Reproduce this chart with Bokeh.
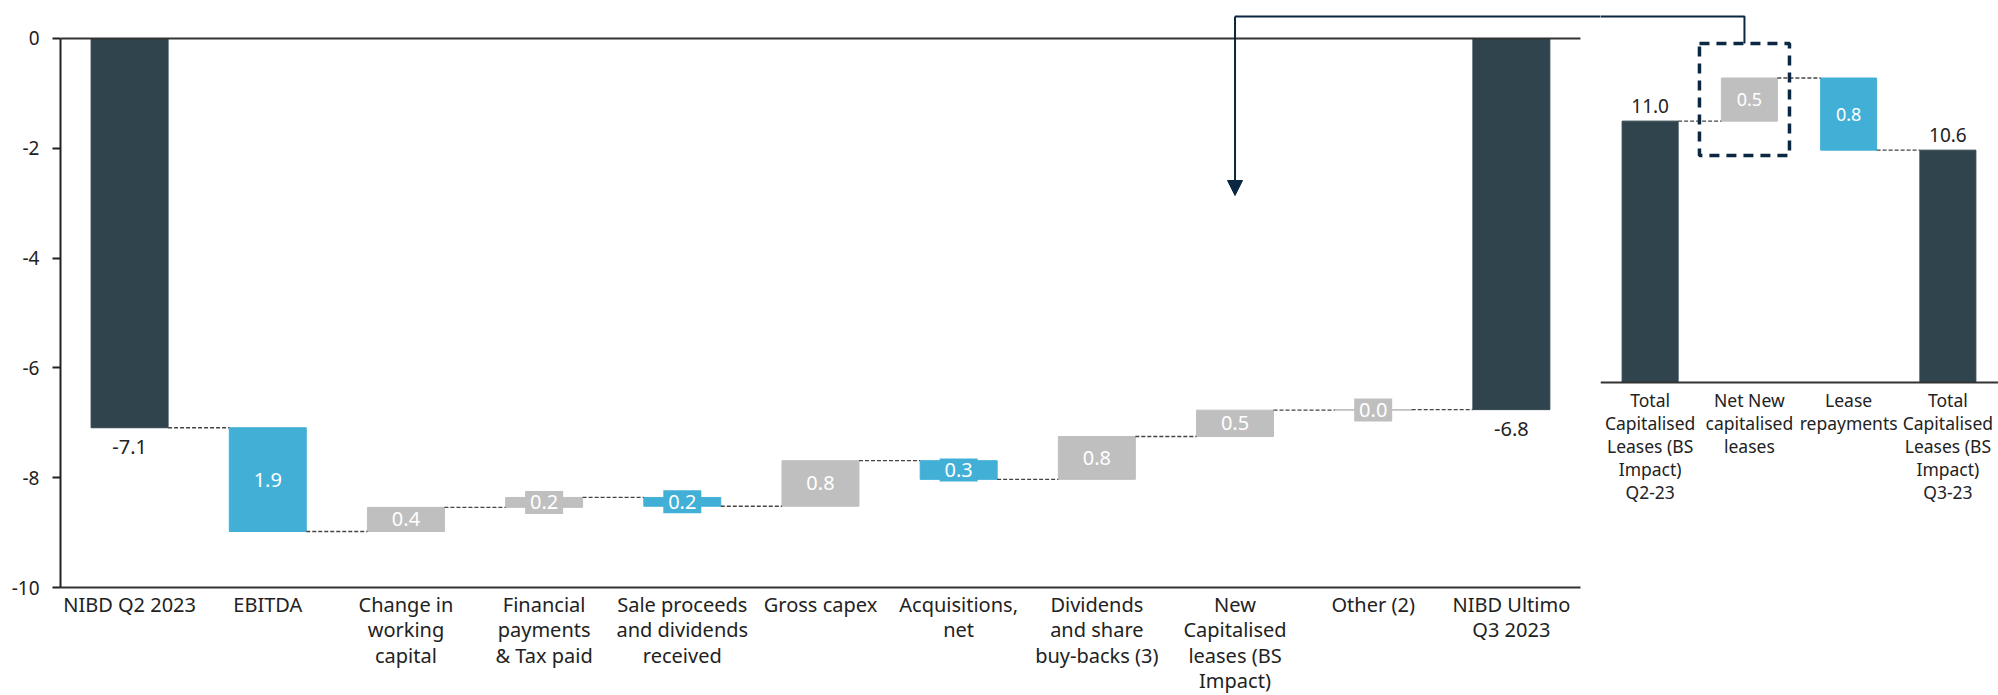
from bokeh.plotting import figure
from bokeh.models import FixedTicker, Arrow, NormalHead, BoxAnnotation, Range1d, ColumnDataSource
from bokeh.layouts import row
from bokeh.embed import file_html
from bokeh.resources import INLINE
from bokeh.core.properties import value

# ---------------- data ----------------
categories = [
    "NIBD Q2 2023", "EBITDA", "Change in\nworking\ncapital", "Financial\npayments\n& Tax paid",
    "Sale proceeds\nand dividends\nreceived", "Gross capex", "Acquisitions,\nnet",
    "Dividends\nand share\nbuy-backs (3)", "New\nCapitalised\nleases (BS\nImpact)",
    "Other (2)", "NIBD Ultimo\nQ3 2023",
]
nibd_start = -7.09
nibd_steps = [-1.89, 0.44, 0.18, -0.16, 0.83, -0.34, 0.78, 0.48, 0.01]
nibd_end = -6.76
y_ticks = [0, -2, -4, -6, -8, -10]

lease_categories = [
    "Total\nCapitalised\nLeases (BS\nImpact)\nQ2-23",
    "Net New\ncapitalised\nleases",
    "Lease\nrepayments",
    "Total\nCapitalised\nLeases (BS\nImpact)\nQ3-23",
]
lease_start = 10.97
lease_steps = [0.49, -0.82]
lease_end = 10.64
lease_axis_base = 8.0   # inset value axis starts here (broken axis)

# ---------------- style ----------------
DARK = "#2F444D"
BLUE = "#42B0D6"
GRAY = "#BFBFBF"
NAVY = "#0B2741"
TXT = "#222222"
FONT = "Noto Sans"


def waterfall(start, steps, end, base=0.0):
    n = len(steps) + 2
    xs = list(range(n))
    tops, bottoms, colors = [start], [base], [DARK]
    levels = [start]
    level = start
    step_x, step_y, step_txt, step_col = [], [], [], []
    for i, s in enumerate(steps):
        new = level + s
        tops.append(max(level, new))
        bottoms.append(min(level, new))
        c = BLUE if s < 0 else GRAY
        colors.append(c)
        step_x.append(i + 1)
        step_y.append((level + new) / 2)
        step_txt.append(f"{abs(s):.1f}")
        step_col.append(c)
        level = new
        levels.append(level)
    tops.append(end)
    bottoms.append(base)
    colors.append(DARK)
    levels.append(end)
    bars = dict(x=xs, top=[max(t, b) for t, b in zip(tops, bottoms)],
                bottom=[min(t, b) for t, b in zip(tops, bottoms)], color=colors)
    steps_src = dict(x=step_x, y=step_y, text=step_txt, color=step_col)
    return bars, steps_src, levels


def style_common(fig):
    fig.xgrid.visible = False
    fig.ygrid.visible = False
    fig.outline_line_color = None
    fig.background_fill_color = "white"
    fig.border_fill_color = "white"


# ---------------- main chart ----------------
BW = 0.557
n_main = len(categories)
bars, steps_src, levels = waterfall(nibd_start, nibd_steps, nibd_end)

p = figure(frame_width=1540, frame_height=582,
           x_range=Range1d(-0.5, n_main - 0.5 + 0.145),
           y_range=Range1d(-10, 0.601), output_backend="svg", toolbar_location=None,
           min_border_left=60, min_border_right=0, min_border_top=5, min_border_bottom=106)
style_common(p)

p.vbar(x="x", top="top", bottom="bottom", width=BW, color="color", source=ColumnDataSource(bars))

cx0 = [i + BW / 2 for i in range(n_main - 1)]
cx1 = [i + 1 - BW / 2 for i in range(n_main - 1)]
cy = levels[:-1]
p.segment(x0=cx0, y0=cy, x1=cx1, y1=cy, line_color="#444444", line_width=1.3, line_dash="4 2")

# zero line
p.segment(x0=[-0.5], y0=[0], x1=[n_main - 0.5], y1=[0], line_color="#333333", line_width=2)

ssrc = ColumnDataSource(steps_src)
p.rect(x="x", y="y", width=38, height=23, width_units="screen", height_units="screen",
       fill_color="color", line_color=None, source=ssrc)
p.text(x="x", y="y", text="text", source=ssrc, text_color="white", text_align="center",
       text_baseline="middle", text_font=value(FONT), text_font_size="20px")

p.text(x=[0, n_main - 1], y=[nibd_start, nibd_end],
       text=[f"{nibd_start:.1f}", f"{nibd_end:.1f}"], text_color=TXT, text_align="center",
       text_baseline="middle", y_offset=19, text_font=value(FONT), text_font_size="20px")

# connector with arrow
link_idx = 8
link_y = 0.40
p.line(x=[link_idx, n_main + 2], y=[link_y, link_y], line_color=NAVY, line_width=2)
p.add_layout(Arrow(x_start=link_idx, y_start=link_y, x_end=link_idx, y_end=-2.86,
                   line_color=NAVY, line_width=2,
                   end=NormalHead(size=15, fill_color=NAVY, line_color=NAVY)))

ax = p.yaxis[0]
ax.ticker = FixedTicker(ticks=y_ticks)
ax.major_label_overrides = {t: str(t) for t in y_ticks}
ax.bounds = (min(y_ticks), max(y_ticks))
ax.axis_line_color = TXT
ax.axis_line_width = 2
ax.major_tick_out = 8
ax.major_tick_in = 0
ax.major_tick_line_width = 2
ax.major_tick_line_color = TXT
ax.minor_tick_line_color = None
ax.major_label_standoff = 13
ax.major_label_text_font = FONT
ax.major_label_text_font_size = "19px"
ax.major_label_text_color = TXT

bx = p.xaxis[0]
bx.ticker = FixedTicker(ticks=list(range(n_main)))
bx.major_label_overrides = {i: c for i, c in enumerate(categories)}
bx.bounds = (-0.5, n_main - 0.5)
bx.axis_line_color = "#333333"
bx.axis_line_width = 2
bx.major_tick_line_color = None
bx.major_tick_out = 0
bx.major_tick_in = 0
bx.minor_tick_line_color = None
bx.minor_tick_out = 0
bx.minor_tick_in = 0
bx.major_label_standoff = 3
bx.major_label_text_font = FONT
bx.major_label_text_font_size = "20px"
bx.major_label_text_color = TXT
bx.major_label_text_line_height = 0.95

# ---------------- inset chart ----------------
IBW = 0.564
n_in = len(lease_categories)
ibars, isteps, ilevels = waterfall(lease_start, lease_steps, lease_end, base=lease_axis_base)

q = figure(frame_width=398, frame_height=582,
           x_range=Range1d(-0.5, n_in - 0.49), y_range=Range1d(5.670, 12.284),
           output_backend="svg", toolbar_location=None,
           x_axis_location=None, y_axis_location=None,
           min_border_left=0, min_border_right=0, min_border_top=5, min_border_bottom=106)
style_common(q)

q.vbar(x="x", top="top", bottom="bottom", width=IBW, color="color", source=ColumnDataSource(ibars))
icx0 = [i + IBW / 2 for i in range(n_in - 1)]
icx1 = [i + 1 - IBW / 2 for i in range(n_in - 1)]
q.segment(x0=icx0, y0=ilevels[:-1], x1=icx1, y1=ilevels[:-1], line_color="#444444",
          line_width=1.3, line_dash="4 2")

# inset category axis (line + labels) at the axis base
q.segment(x0=[-0.5], y0=[lease_axis_base], x1=[n_in], y1=[lease_axis_base],
          line_color="#333333", line_width=2)
q.text(x=list(range(n_in)), y=[lease_axis_base] * n_in, text=lease_categories,
       text_color=TXT, text_align="center", text_baseline="top", y_offset=6,
       text_font=value(FONT), text_font_size="17.5px", text_line_height=0.95)

q.text(x="x", y="y", text="text", source=ColumnDataSource(isteps), text_color="white",
       text_align="center", text_baseline="middle", text_font=value(FONT), text_font_size="18px")
q.text(x=[0, n_in - 1], y=[lease_start, lease_end],
       text=[f"{lease_start:.1f}", f"{lease_end:.1f}"], text_color=TXT, text_align="center",
       text_baseline="middle", y_offset=-15, text_font=value(FONT), text_font_size="19px")

# connector continuation and highlight box
in_link_y = 12.159
box_l, box_r, box_b, box_t = 0.497, 1.404, 10.58, 11.852
box_cx = (box_l + box_r) / 2
q.line(x=[-1, box_cx, box_cx], y=[in_link_y, in_link_y, box_t], line_color=NAVY, line_width=2)
q.add_layout(BoxAnnotation(left=box_l, right=box_r, bottom=box_b, top=box_t,
                           fill_alpha=0, line_alpha=1,
                           line_color=NAVY, line_width=3.5, line_dash="10 7"))

layout = row(p, q)
open("out.html", "w").write(file_html(layout, INLINE))
